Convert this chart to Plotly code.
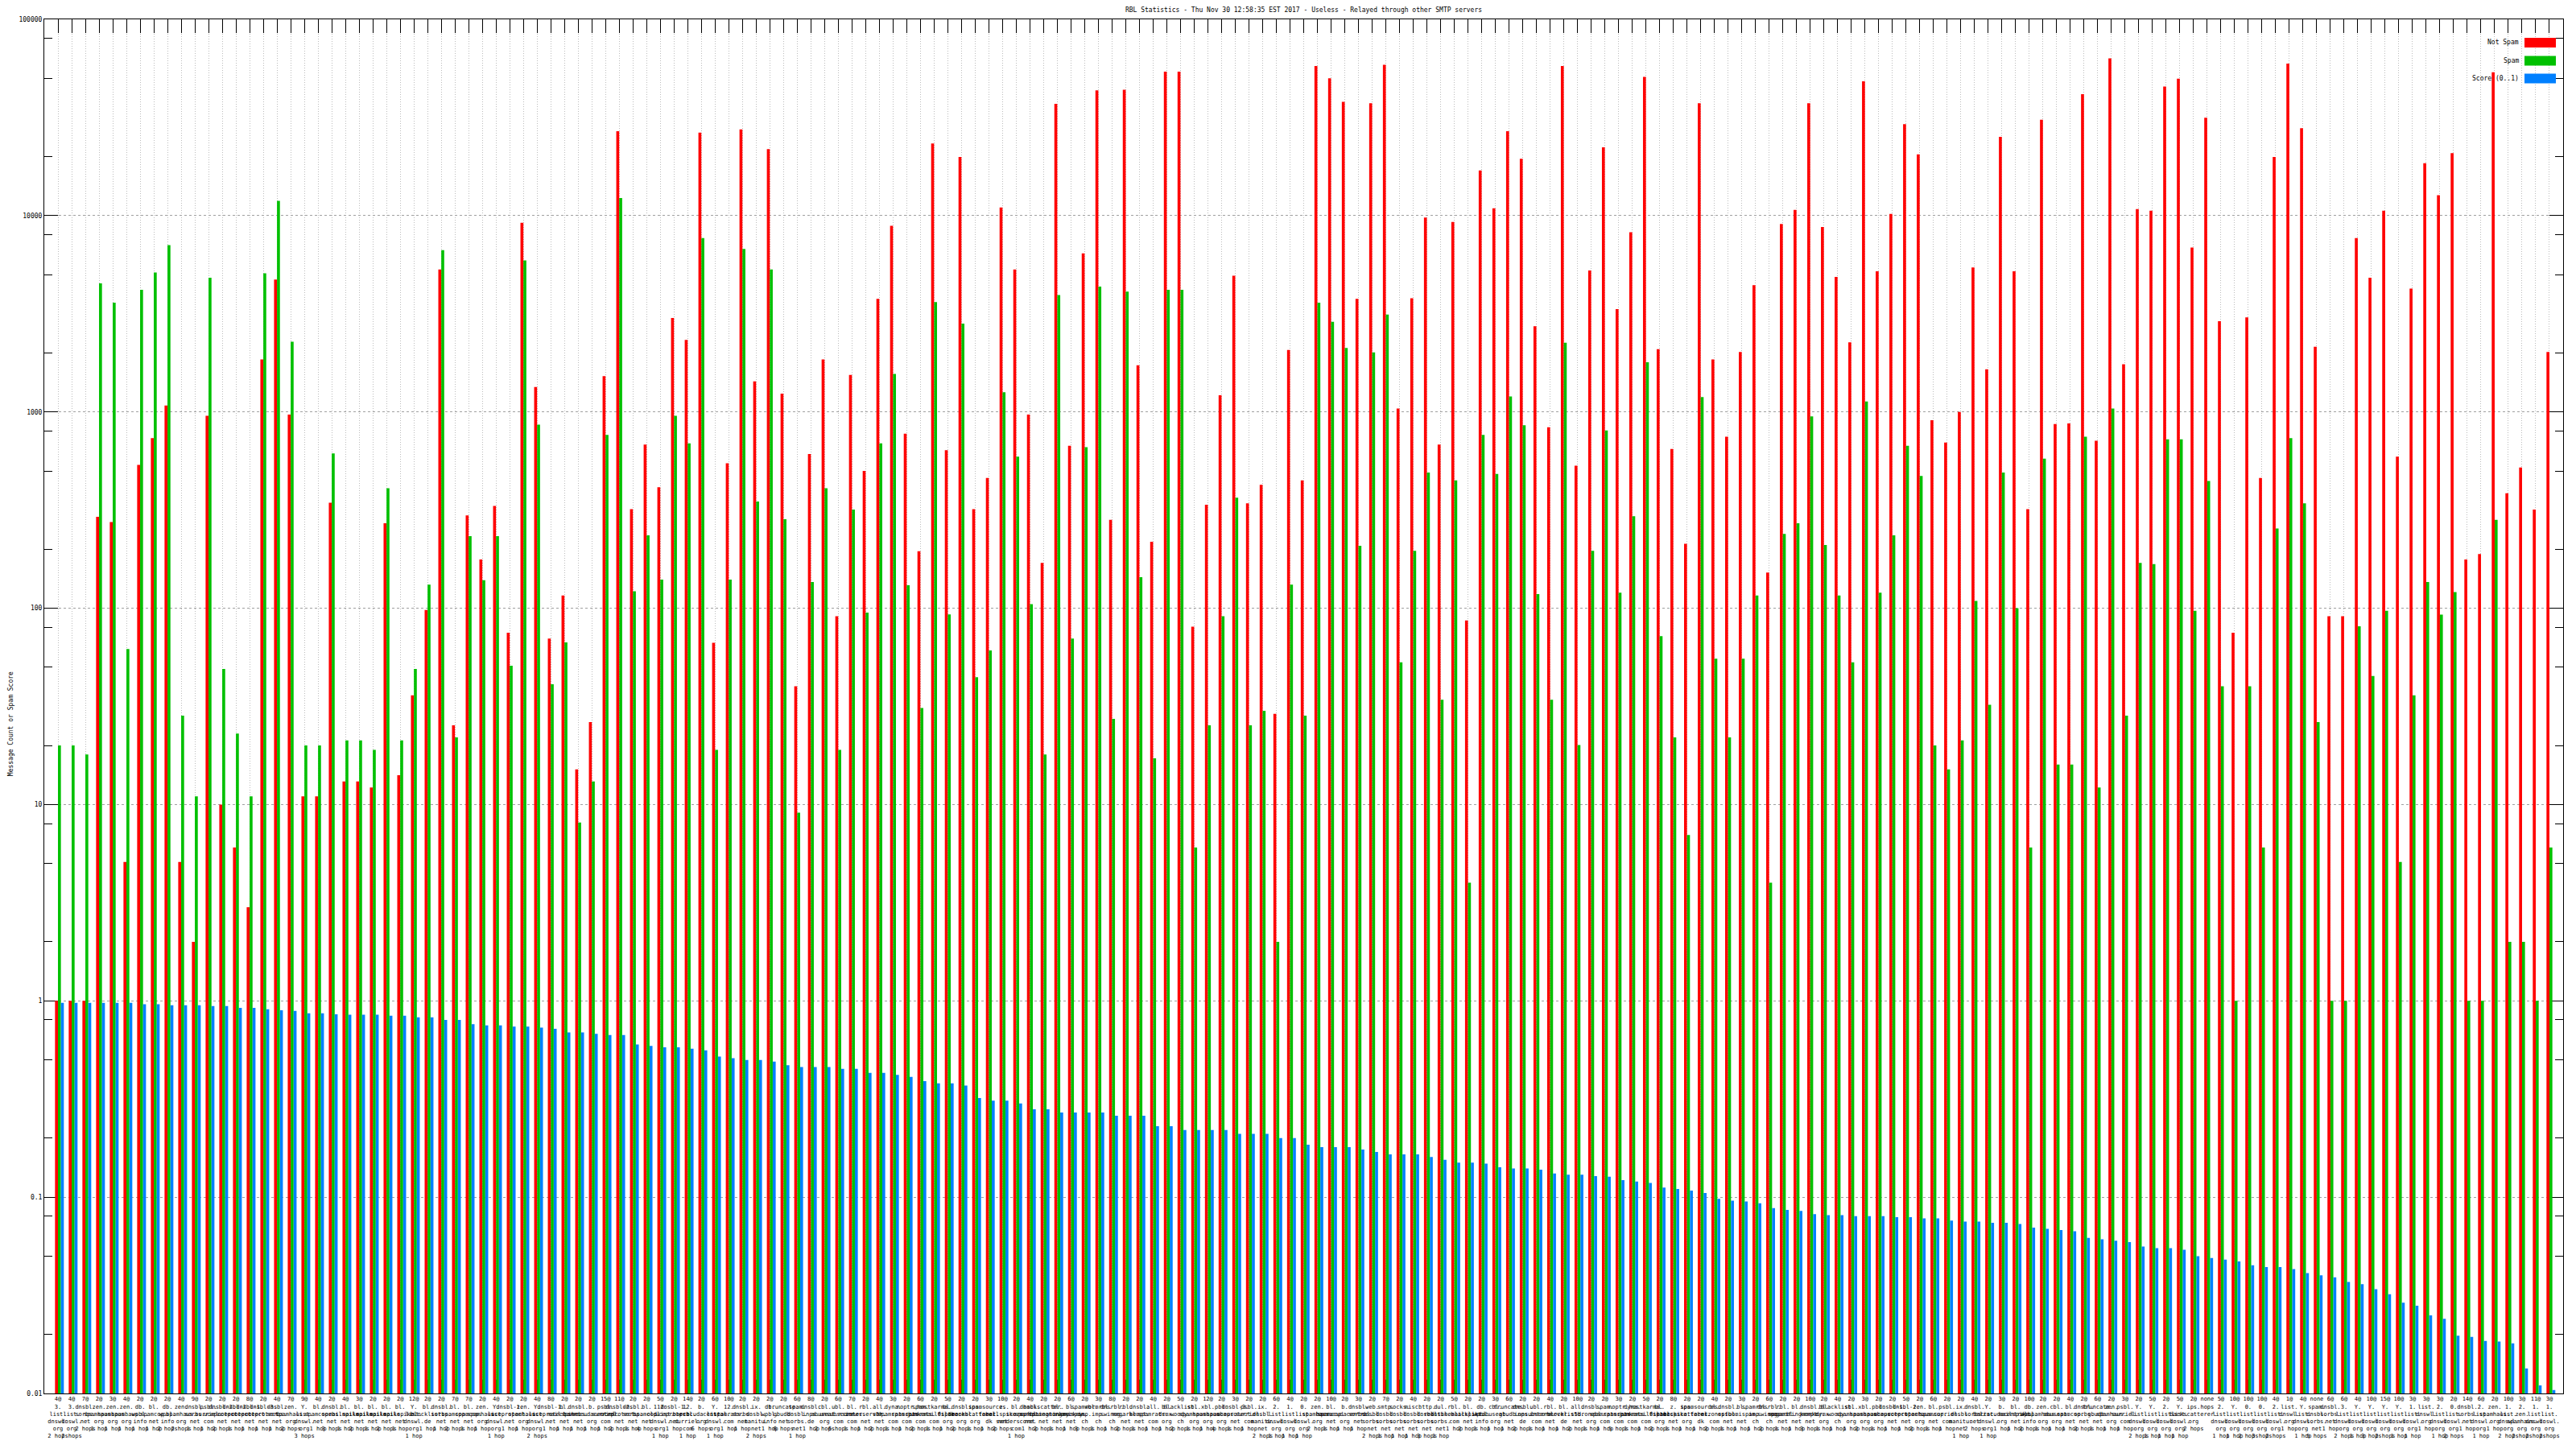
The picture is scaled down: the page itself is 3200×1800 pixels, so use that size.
import plotly.graph_objects as go

# ---------------- data ----------------
not_spam = [
    1, 1, 1, 292, 275, 5.1, 537, 735, 1078, 5.1,
    2.0, 955, 10, 6.05, 3.0, 1850, 4720, 970, 11, 11,
    345, 13.1, 13.1, 12.2, 271, 14.1, 36, 98, 5320, 25.3,
    297, 177, 332, 75, 9200, 1340, 70, 116, 15.1, 26.3,
    1520, 26900, 320, 682, 413, 3010, 2330, 26500, 66.7, 548,
    27500, 1430, 21800, 1240, 40, 610, 1850, 91, 1545, 501,
    3770, 8870, 774, 195, 23300, 638, 19900, 320, 461, 11000,
    5320, 970, 170, 37100, 672, 6420, 43500, 282, 43800, 1730,
    218, 54100, 54100, 80.5, 337, 1215, 4940, 342, 425, 29,
    2070, 448, 57800, 50100, 38000, 3770, 37400, 58700, 1040, 3790,
    9780, 682, 9280, 86.7, 17000, 10900, 26900, 19500, 2730, 835,
    57800, 532, 5250, 22300, 3340, 8230, 50900, 2090, 648, 213,
    37400, 1850, 747, 2020, 4420, 152, 9070, 10700, 37400, 8740,
    4870, 2260, 48300, 5210, 10200, 29200, 20500, 907, 698, 1000,
    5450, 1650, 25200, 5210, 320, 30800, 867, 873, 41600, 713,
    63300, 1750, 10800, 10600, 45500, 49800, 6870, 31500, 2900, 75,
    3030, 461, 19900, 59500, 27900, 2150, 91, 91, 7690, 4830,
    10600, 592, 4250, 18500, 12700, 20800, 177, 189, 53700, 385,
    521, 318, 2020,
]

spam = [
    20, 20, 18, 4520, 3600, 62, 4190, 5130, 7080, 28.4,
    11, 4830, 49, 23, 11, 5090, 11900, 2280, 20, 20,
    614, 21.2, 21.2, 19, 409, 21.2, 49, 132, 6670, 22,
    233, 139, 233, 51, 5920, 861, 41, 67, 8.1, 13.1,
    764, 12300, 122, 235, 140, 955, 692, 7690, 19, 140,
    6770, 350, 5320, 284, 9.1, 136, 409, 19, 318, 95,
    692, 1560, 131, 31, 3630, 93, 2820, 44.5, 61, 1260,
    592, 105, 18, 3940, 70, 662, 4350, 27.3, 4100, 144,
    17.2, 4190, 4190, 6.05, 25.3, 91, 366, 25.3, 30, 2.0,
    132, 28.4, 3600, 2880, 2120, 208, 2010, 3130, 53, 196,
    491, 34.2, 448, 4.0, 764, 483, 1200, 855, 118, 34.2,
    2250, 20.1, 196, 805, 120, 294, 1790, 72, 22, 7.0,
    1190, 55.3, 22, 55.3, 116, 4.0, 239, 271, 948, 210,
    116, 53, 1130, 120, 235, 672, 472, 20, 15.1, 21.2,
    109, 32.2, 491, 100, 6.05, 578, 16, 16, 747, 12.2,
    1040, 28.4, 170, 168, 725, 725, 97, 445, 40, 1,
    40, 6.05, 255, 735, 342, 26.3, 1, 1, 81, 45.2,
    97, 5.1, 36, 136, 92.7, 121, 1, 1, 282, 2.0,
    2.0, 1, 6.05,
]

score = [
    0.977, 0.977, 0.977, 0.977, 0.977, 0.977, 0.96, 0.96, 0.95, 0.95,
    0.95, 0.94, 0.94, 0.92, 0.92, 0.905, 0.895, 0.89, 0.865, 0.865,
    0.855, 0.85, 0.85, 0.85, 0.84, 0.84, 0.825, 0.825, 0.80, 0.80,
    0.76, 0.75, 0.75, 0.74, 0.74, 0.73, 0.72, 0.69, 0.69, 0.68,
    0.67, 0.67, 0.60, 0.59, 0.58, 0.58, 0.57, 0.56, 0.52, 0.51,
    0.50, 0.50, 0.49, 0.47, 0.46, 0.46, 0.46, 0.45, 0.45, 0.43,
    0.43, 0.42, 0.41, 0.39, 0.38, 0.38, 0.37, 0.32, 0.31, 0.31,
    0.30, 0.28, 0.28, 0.27, 0.27, 0.27, 0.27, 0.26, 0.26, 0.26,
    0.23, 0.23, 0.22, 0.22, 0.22, 0.22, 0.21, 0.21, 0.21, 0.20,
    0.20, 0.185, 0.18, 0.18, 0.18, 0.175, 0.17, 0.165, 0.165, 0.165,
    0.16, 0.155, 0.15, 0.15, 0.148, 0.142, 0.14, 0.14, 0.138, 0.132,
    0.13, 0.13, 0.128, 0.127, 0.122, 0.12, 0.118, 0.112, 0.11, 0.108,
    0.105, 0.098, 0.096, 0.095, 0.093, 0.088, 0.086, 0.085, 0.082, 0.081,
    0.081, 0.080, 0.080, 0.080, 0.079, 0.079, 0.078, 0.078, 0.076, 0.075,
    0.075, 0.074, 0.074, 0.073, 0.070, 0.069, 0.068, 0.067, 0.062, 0.061,
    0.060, 0.059, 0.056, 0.055, 0.055, 0.054, 0.050, 0.049, 0.048, 0.047,
    0.045, 0.044, 0.044, 0.043, 0.041, 0.040, 0.039, 0.037, 0.036, 0.034,
    0.032, 0.029, 0.028, 0.025, 0.024, 0.0197, 0.0194, 0.0185, 0.0184, 0.018,
    0.0134, 0.011, 0.0104,
]

tick_labels = [
    "4@|3.list.dnswl.org|2 hops", "4@|3.list.dnswl.org|2 hops", "7@|dnsbl.sorbs.net|2 hops",
    "2@|zen.spamhaus.org|1 hop", "3@|zen.spamhaus.org|1 hop", "4@|zen.spamhaus.org|1 hop",
    "2@|db.wpbl.info|1 hop", "2@|bl.spamcop.net|1 hop", "2@|db.wpbl.info|2 hops",
    "4@|zen.spamhaus.org|2 hops", "9@|dnsbl.sorbs.net|1 hop", "2@|psbl.surriel.com|1 hop",
    "2@|dnsbl-2.uceprotect.net|2 hops", "2@|dnsbl-2.uceprotect.net|1 hop", "8@|dnsbl-1.uceprotect.net|1 hop",
    "2@|dnsbl-3.uceprotect.net|1 hop", "4@|dnsbl.sorbs.net|1 hop", "7@|zen.spamhaus.org|2 hops",
    "9@|Y.list.dnswl.org|3 hops", "4@|bl.spamcop.net|1 hop", "2@|dnsbl.sorbs.net|3 hops",
    "4@|bl.mailspike.net|1 hop", "3@|bl.mailspike.net|2 hops", "2@|bl.mailspike.net|1 hop",
    "2@|bl.mailspike.net|2 hops", "2@|bl.mailspike.net|1 hop", "12@|Y.list.dnswl.org|1 hop",
    "2@|bl.blocklist.de|1 hop", "2@|dnsbl.sorbs.net|1 hop", "7@|bl.spamcop.net|2 hops",
    "7@|bl.spamcop.net|1 hop", "2@|zen.spamhaus.org|1 hop", "4@|Y.list.dnswl.org|1 hop",
    "2@|dnsbl-1.uceprotect.net|1 hop", "2@|zen.spamhaus.org|1 hop", "4@|Y.list.dnswl.org|2 hops",
    "8@|dnsbl-1.uceprotect.net|1 hop", "2@|bl.mailspike.net|1 hop", "2@|dnsbl.sorbs.net|1 hop",
    "2@|b.barracudacentral.org|1 hop", "15@|psbl.surriel.com|1 hop", "11@|dnsbl-2.uceprotect.net|2 hops",
    "2@|dnsbl.sorbs.net|1 hop", "2@|bl.spamcop.net|4 hops", "5@|112.oldlist.dnswl.org|1 hop",
    "2@|dnsbl-1.uceprotect.net|1 hop", "14@|12.psbl.surriel.com|1 hop", "2@|b.barracudacentral.org|6 hops",
    "6@|Y.list.dnswl.org|1 hop", "10@|12.spamrats.com|1 hop", "2@|dnsbl.sorbs.net|1 hop",
    "2@|ix.dnsbl.manitu.net|2 hops", "2@|db.wpbl.info|1 hop", "2@|truncate.gbudb.net|6 hops",
    "6@|spam.dnsbl.sorbs.net|1 hop", "8@|dnsbl.inps.de|1 hop", "2@|cbl.abuseat.org|2 hops",
    "6@|ubl.unsubscore.com|6 hops", "7@|bl.nszones.com|1 hop", "2@|rbl.interserver.net|1 hop",
    "4@|all.s5h.net|2 hops", "3@|dyna.spamrats.com|1 hop", "2@|noptr.spamrats.com|1 hop",
    "6@|spam.spamrats.com|2 hops", "2@|hostkarma.junkemailfilter.com|1 hop", "5@|bl.0spam.org|1 hop",
    "2@|dnsbl.dronebl.org|2 hops", "2@|ips.backscatterer.org|1 hop", "3@|spamsources.fabel.dk|1 hop",
    "10@|z.mailspike.net|2 hops", "2@|bl.score.senderscore.com|1 hop", "4@|dnsbl.spfbl.net|1 hop",
    "2@|backscatter.spameatingmonkey.net|2 hops", "2@|bl.spameatingmonkey.net|1 hop", "6@|bl.suomispam.net|1 hop",
    "2@|spamrbl.imp.ch|3 hops", "3@|wormrbl.imp.ch|1 hop", "8@|dnsrbl.swinog.ch|1 hop",
    "2@|rbl.megarbl.net|2 hops", "2@|dnsbl.kempt.net|1 hop", "4@|all.spamrats.com|1 hop",
    "2@|bl.drmx.org|1 hop", "5@|blacklist.woody.ch|2 hops", "2@|sbl.spamhaus.org|1 hop",
    "12@|xbl.spamhaus.org|1 hop", "2@|pbl.spamhaus.org|4 hops", "3@|dnsbl-3.uceprotect.net|1 hop",
    "2@|psbl.surriel.com|1 hop", "2@|ix.dnsbl.manitu.net|2 hops", "6@|2.list.dnswl.org|1 hop",
    "4@|1.list.dnswl.org|1 hop", "2@|0.list.dnswl.org|1 hop", "2@|zen.spamhaus.org|2 hops",
    "10@|bl.spamcop.net|1 hop", "2@|b.barracudacentral.org|1 hop", "3@|dnsbl.sorbs.net|1 hop",
    "2@|web.dnsbl.sorbs.net|2 hops", "7@|smtp.dnsbl.sorbs.net|1 hop", "2@|socks.dnsbl.sorbs.net|1 hop",
    "4@|misc.dnsbl.sorbs.net|1 hop", "2@|http.dnsbl.sorbs.net|3 hops", "2@|dul.dnsbl.sorbs.net|1 hop",
    "5@|rbl.realtimeblacklist.com|1 hop", "2@|bl.mailspike.net|2 hops", "2@|db.wpbl.info|1 hop",
    "3@|cbl.abuseat.org|1 hop", "6@|truncate.gbudb.net|1 hop", "2@|dnsbl.inps.de|2 hops",
    "2@|ubl.unsubscore.com|1 hop", "4@|rbl.interserver.net|1 hop", "2@|bl.blocklist.de|1 hop",
    "10@|all.s5h.net|2 hops", "2@|dnsbl.dronebl.org|1 hop", "2@|spam.spamrats.com|1 hop",
    "3@|noptr.spamrats.com|5 hops", "2@|dyna.spamrats.com|1 hop", "5@|hostkarma.junkemailfilter.com|1 hop",
    "2@|bl.0spam.org|2 hops", "8@|z.mailspike.net|1 hop", "2@|ips.backscatterer.org|1 hop",
    "2@|spamsources.fabel.dk|1 hop", "4@|bl.nszones.com|2 hops", "2@|dnsbl.spfbl.net|1 hop",
    "3@|bl.suomispam.net|1 hop", "2@|spamrbl.imp.ch|1 hop", "6@|dnsrbl.swinog.ch|2 hops",
    "2@|rbl.megarbl.net|1 hop", "2@|bl.spameatingmonkey.net|1 hop", "10@|dnsbl.kempt.net|3 hops",
    "2@|bl.drmx.org|1 hop", "4@|blacklist.woody.ch|1 hop", "2@|sbl.spamhaus.org|1 hop",
    "3@|xbl.spamhaus.org|2 hops", "2@|pbl.spamhaus.org|1 hop", "2@|dnsbl-1.uceprotect.net|1 hop",
    "5@|dnsbl-2.uceprotect.net|1 hop", "2@|zen.spamhaus.org|2 hops", "6@|bl.spamcop.net|1 hop",
    "2@|psbl.surriel.com|1 hop", "2@|ix.dnsbl.manitu.net|1 hop", "4@|dnsbl.sorbs.net|2 hops",
    "2@|Y.list.dnswl.org|1 hop", "3@|b.barracudacentral.org|1 hop", "2@|bl.mailspike.net|1 hop",
    "10@|db.wpbl.info|2 hops", "2@|zen.spamhaus.org|1 hop", "2@|cbl.abuseat.org|1 hop",
    "4@|bl.spamcop.net|1 hop", "2@|dnsbl.sorbs.net|2 hops", "6@|truncate.gbudb.net|1 hop",
    "2@|zen.spamhaus.org|1 hop", "3@|psbl.surriel.com|1 hop", "2@|Y.list.dnswl.org|2 hops",
    "5@|Y.list.dnswl.org|1 hop", "2@|2.list.dnswl.org|1 hop",
    "5@|Y.list.dnswl.org|1 hop", "2@|ips.backscatterer.org|2 hops", "none||hops",
    "5@|2.list.dnswl.org|1 hop", "10@|Y.list.dnswl.org|1 hop", "10@|0.list.dnswl.org|2 hops",
    "10@|0.list.dnswl.org|3 hops", "4@|2.list.dnswl.org|2 hops", "1@|list.dnswl.org|1 hop",
    "4@|Y.list.dnswl.org|1 hop", "none|spam.dnsbl.sorbs.net|5 hops", "6@|dnsbl.sorbs.net|1 hop",
    "6@|3.list.dnswl.org|2 hops", "4@|Y.list.dnswl.org|1 hop", "10@|Y.list.dnswl.org|3 hops",
    "15@|Y.list.dnswl.org|2 hops", "10@|Y.list.dnswl.org|1 hop", "3@|1.list.dnswl.org|1 hop",
    "3@|list.dnswl.org|1 hop", "3@|2.list.dnswl.org|1 hop", "2@|0.list.dnswl.org|2 hops",
    "14@|dnsbl.sorbs.net|1 hop", "6@|2.list.dnswl.org|1 hop", "2@|zen.spamhaus.org|1 hop",
    "10@|1.list.dnswl.org|2 hops", "3@|2.zen.spamhaus.org|2 hops", "11@|1.list.dnswl.org|2 hops",
    "3@|1.list.dnswl.org|2 hops",
]

def fmt_label(s):
    count, host, hops = s.split("|")
    parts = [count]
    if host:
        parts.append(host.replace(".", ".<br>"))
    if hops:
        parts.append(hops)
    return "<br>".join(parts)

xs = list(range(len(not_spam)))
ticktext = [fmt_label(s) for s in tick_labels]

RED = "#ff0000"
GREEN = "#00c000"
BLUE = "#0080ff"
FONT = "DejaVu Sans Mono"
BW = 0.215

fig = go.Figure()
fig.add_trace(go.Bar(x=xs, y=not_spam, name="Not Spam", marker=dict(color=RED, line=dict(width=0)),
                     offset=-BW, width=BW))
fig.add_trace(go.Bar(x=xs, y=spam, name="Spam", marker=dict(color=GREEN, line=dict(width=0)),
                     offset=0, width=BW))
fig.add_trace(go.Bar(x=xs, y=score, name="Score (0..1)", marker=dict(color=BLUE, line=dict(width=0)),
                     offset=BW, width=BW))

major = [0.01, 0.1, 1, 10, 100, 1000, 10000, 100000]
major_txt = ["0.01", "0.1", "1", "10", "100", "1000", "10000", "100000"]
minor = []
for d in major[:-1]:
    for m in (2, 5, 8):
        minor.append(d * m)

fig.update_layout(
    width=3200, height=1800,
    margin=dict(l=55, r=16, t=24, b=69),
    paper_bgcolor="white", plot_bgcolor="white",
    barmode="overlay", showlegend=False,
    font=dict(family=FONT, size=8, color="black"),
    title=dict(text="RBL Statistics - Thu Nov 30 12:58:35 EST 2017 - Useless - Relayed through other SMTP servers",
               x=0.5, xref="paper", y=1 - 12 / 1800, yref="container", yanchor="middle", xanchor="center",
               font=dict(family=FONT, size=8, color="black")),
    xaxis=dict(
        type="linear", range=[-1, 183],
        tickmode="array", tickvals=xs, ticktext=ticktext,
        tickangle=0,
        ticks="inside", ticklen=17, tickwidth=1, tickcolor="black",
        showline=True, linecolor="black", linewidth=1, mirror="ticks",
        showgrid=True, gridcolor="#bcbcbc", gridwidth=1, griddash="1px,2px",
        zeroline=False, layer="below traces",
        tickfont=dict(family=FONT, size=7, color="black"),
    ),
    yaxis=dict(
        type="log", range=[-2, 5],
        tickmode="array", tickvals=major, ticktext=major_txt,
        ticks="inside", ticklen=17, tickwidth=1, tickcolor="black",
        showline=True, linecolor="black", linewidth=1, mirror="ticks",
        showgrid=True, gridcolor="#a0a0a0", gridwidth=1, griddash="3px,3px",
        zeroline=False, layer="below traces",
        minor=dict(tickmode="array", tickvals=minor, ticks="inside", ticklen=10,
                   tickcolor="black", tickwidth=1, showgrid=False),
        tickfont=dict(family=FONT, size=8, color="black"),
    ),
)

# y-axis title (gnuplot-style, rotated)
fig.add_annotation(text="Message Count or Spam Score", xref="paper", yref="paper",
                   x=0, y=0.487, xshift=-48, textangle=-90, showarrow=False,
                   font=dict(family=FONT, size=8, color="black"))

# gnuplot-style key: text right-aligned, colour sample to the right
W, H = 3129.0, 1707.0
def px(x):
    return (x - 55) / W
def py(y):
    return 1 - (y - 24) / H

key = [("Not Spam", RED, 53), ("Spam", GREEN, 75.5), ("Score (0..1)", BLUE, 97.5)]
for txt, col, yc in key:
    fig.add_annotation(text=txt, xref="paper", yref="paper", x=px(3131), y=py(yc),
                       xanchor="right", yanchor="middle", showarrow=False,
                       font=dict(family=FONT, size=8, color="black"))
    fig.add_shape(type="rect", xref="paper", yref="paper",
                  x0=px(3136), x1=px(3175), y0=py(yc + 6), y1=py(yc - 6),
                  fillcolor=col, line=dict(width=0))

fig.write_html("out.html", config={"displayModeBar": False},
               post_script="document.body.style.margin='0px';document.body.style.overflow='hidden';")
